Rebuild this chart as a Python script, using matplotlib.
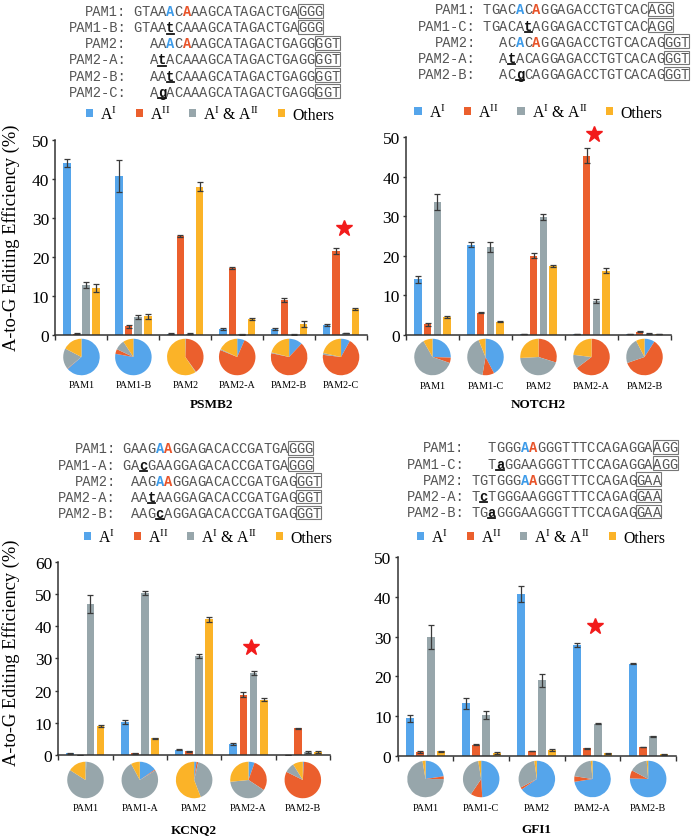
import numpy as np
import matplotlib
matplotlib.use('Agg')
import matplotlib.pyplot as plt
from matplotlib.patches import Patch, Rectangle
from matplotlib.lines import Line2D

plt.rcParams['font.family'] = 'Liberation Serif'
plt.rcParams['mathtext.fontset'] = 'custom'
plt.rcParams['mathtext.rm'] = 'Liberation Serif'
plt.rcParams['mathtext.it'] = 'Liberation Serif:italic'
plt.rcParams['mathtext.bf'] = 'Liberation Serif:bold'

# ---------------- data ----------------
series_names = [r'A$^{\mathrm{I}}$', r'A$^{\mathrm{II}}$',
                r'A$^{\mathrm{I}}$ & A$^{\mathrm{II}}$', 'Others']

psmb2_groups = ['PAM1', 'PAM1-B', 'PAM2', 'PAM2-A', 'PAM2-B', 'PAM2-C']
psmb2_a1 = [44.0, 40.7, 0.3, 1.5, 1.6, 2.5]
psmb2_a2 = [0.3, 2.2, 25.3, 17.1, 8.9, 21.5]
psmb2_both = [12.8, 4.6, 0.3, 0.2, 0.1, 0.5]
psmb2_oth = [12.0, 4.8, 38.0, 4.1, 2.8, 6.7]
psmb2_a1_err = [1.0, 4.0, 0.1, 0.2, 0.2, 0.2]
psmb2_a2_err = [0.1, 0.3, 0.3, 0.2, 0.5, 0.7]
psmb2_both_err = [0.7, 0.6, 0.1, 0.1, 0.05, 0.1]
psmb2_oth_err = [1.0, 0.6, 1.1, 0.2, 0.7, 0.2]

notch2_groups = ['PAM1', 'PAM1-C', 'PAM2', 'PAM2-A', 'PAM2-B']
notch2_a1 = [14.0, 22.8, 0.1, 0.1, 0.12]
notch2_a2 = [2.6, 5.6, 20.0, 45.3, 0.8]
notch2_both = [33.6, 22.2, 29.8, 8.6, 0.3]
notch2_oth = [4.5, 3.3, 17.4, 16.2, 0.1]
notch2_a1_err = [0.8, 0.7, 0.0, 0.0, 0.0]
notch2_a2_err = [0.3, 0.2, 0.6, 2.0, 0.1]
notch2_both_err = [2.0, 1.2, 0.8, 0.5, 0.05]
notch2_oth_err = [0.3, 0.2, 0.3, 0.6, 0.02]

kcnq2_groups = ['PAM1', 'PAM1-A', 'PAM2', 'PAM2-A', 'PAM2-B']
kcnq2_a1 = [0.5, 10.2, 1.6, 3.5, 0.1]
kcnq2_a2 = [0.0, 0.5, 1.1, 18.7, 8.3]
kcnq2_both = [47.0, 50.4, 30.6, 25.4, 0.9]
kcnq2_oth = [9.0, 5.2, 42.1, 17.2, 0.9]
kcnq2_a1_err = [0.2, 0.6, 0.2, 0.3, 0.05]
kcnq2_a2_err = [0.0, 0.2, 0.1, 0.7, 0.2]
kcnq2_both_err = [2.8, 0.6, 0.6, 0.7, 0.3]
kcnq2_oth_err = [0.3, 0.2, 0.8, 0.5, 0.2]

gfi1_groups = ['PAM1', 'PAM1-C', 'PAM2', 'PAM2-A', 'PAM2-B']
gfi1_a1 = [9.4, 13.2, 40.8, 28.0, 23.2]
gfi1_a2 = [1.0, 2.8, 1.2, 1.9, 2.2]
gfi1_both = [30.0, 10.2, 19.0, 8.1, 4.9]
gfi1_oth = [1.1, 0.7, 1.4, 0.6, 0.4]
gfi1_a1_err = [0.9, 1.4, 2.0, 0.5, 0.15]
gfi1_a2_err = [0.2, 0.2, 0.1, 0.1, 0.1]
gfi1_both_err = [3.0, 1.0, 1.7, 0.15, 0.15]
gfi1_oth_err = [0.2, 0.2, 0.3, 0.1, 0.1]

# star marks: (group index, y value)
psmb2_star = (5, 27.5)
notch2_star = (3, 50.8)
kcnq2_star = (3, 33.4)
gfi1_star = (3, 32.6)

# sequences (lowercase = substituted base), offset in characters, blue/red highlighted A
psmb2_seq_labels = ['PAM1', 'PAM1-B', 'PAM2', 'PAM2-A', 'PAM2-B', 'PAM2-C']
psmb2_seqs = ['GTAAACAAAGCATAGACTGAGGG', 'GTAAtCAAAGCATAGACTGAGGG',
              'AAACAAAGCATAGACTGAGGGGT', 'AtACAAAGCATAGACTGAGGGGT',
              'AAtCAAAGCATAGACTGAGGGGT', 'AgACAAAGCATAGACTGAGGGGT']
psmb2_offs = [0, 0, 2, 2, 2, 2]
psmb2_blue = [4, None, 2, None, None, None]
psmb2_red = [6, None, 4, None, None, None]

notch2_seq_labels = ['PAM1', 'PAM1-C', 'PAM2', 'PAM2-A', 'PAM2-B']
notch2_seqs = ['TGACACAGGAGACCTGTCACAGG', 'TGACAtAGGAGACCTGTCACAGG',
               'ACACAGGAGACCTGTCACAGGGT', 'AtACAGGAGACCTGTCACAGGGT',
               'ACgCAGGAGACCTGTCACAGGGT']
notch2_offs = [0, 0, 2, 2, 2]
notch2_blue = [4, None, 2, None, None]
notch2_red = [6, None, 4, None, None]

kcnq2_seq_labels = ['PAM1', 'PAM1-A', 'PAM2', 'PAM2-A', 'PAM2-B']
kcnq2_seqs = ['GAAGAAGGAGACACCGATGAGGG', 'GAcGAAGGAGACACCGATGAGGG',
              'AAGAAGGAGACACCGATGAGGGT', 'AAtAAGGAGACACCGATGAGGGT',
              'AAGcAGGAGACACCGATGAGGGT']
kcnq2_offs = [0, 0, 1, 1, 1]
kcnq2_blue = [4, None, 3, None, None]
kcnq2_red = [5, None, 4, None, None]

gfi1_seq_labels = ['PAM1', 'PAM1-C', 'PAM2', 'PAM2-A', 'PAM2-B']
gfi1_seqs = ['TGGGAAGGGTTTCCAGAGGAAGG', 'TaGGAAGGGTTTCCAGAGGAAGG',
             'TGTGGGAAGGGTTTCCAGAGGAA', 'TcTGGGAAGGGTTTCCAGAGGAA',
             'TGaGGGAAGGGTTTCCAGAGGAA']
gfi1_offs = [2, 2, 0, 0, 0]
gfi1_blue = [4, None, 6, None, None]
gfi1_red = [5, None, 7, None, None]

# ---------------- style ----------------
colors = ['#55A5EB', '#EB5F2D', '#97A6AB', '#FBB328']
MONO = 'Liberation Mono'
SEQ_FS = 9.9
CW = 8.26        # monospace cell width in px
LINE = 16.1
SEQ_C = '#555555'

W, H = 692, 837
fig = plt.figure(figsize=(W / 100, H / 100), dpi=100)
# overlay axes in pixel units, used for the pies
ov = fig.add_axes([0, 0, 1, 1], zorder=5)
ov.set_xlim(0, W)
ov.set_ylim(0, H)
ov.axis('off')


def fx(x):
    return x / W


def fy(y):
    return 1 - y / H


def seq_block(base_x, y0, labels, seqs, offs, blue, red):
    for j in range(len(seqs)):
        yc = y0 + j * LINE
        yb = yc + 4.5
        fig.text(fx(base_x - CW * 0.8), fy(yb), labels[j] + ':', family=MONO,
                 size=SEQ_FS, color=SEQ_C, ha='right', va='baseline')
        s = seqs[j]
        for i, ch in enumerate(s):
            xx = base_x + (offs[j] + i) * CW
            col, wt = SEQ_C, 'normal'
            if i == blue[j]:
                col, wt = '#3D9BE9', 'bold'
            elif i == red[j]:
                col, wt = '#E8542A', 'bold'
            elif ch.islower():
                col, wt = '#111111', 'bold'
                fig.add_artist(Line2D([fx(xx + 0.5), fx(xx + CW - 0.5)],
                                      [fy(yb + 2.2), fy(yb + 2.2)],
                                      color='#111111', lw=1.3))
            fig.text(fx(xx), fy(yb), ch, family=MONO, size=SEQ_FS,
                     color=col, weight=wt, ha='left', va='baseline')
        bx = base_x + (offs[j] + len(s) - 3) * CW
        fig.add_artist(Rectangle((fx(bx), fy(yc + 6.8)), 3 * CW / W, 13.6 / H,
                                 transform=fig.transFigure, fill=False,
                                 edgecolor='#777777', lw=0.8))


def legend_at(x, y):
    handles = [Patch(facecolor=c, edgecolor='none') for c in colors]
    fig.legend(handles, series_names, loc='center', bbox_to_anchor=(fx(x), fy(y)),
               ncol=4, frameon=False, fontsize=11.3, handlelength=0.45,
               handleheight=0.45, handletextpad=0.45, columnspacing=1.2,
               borderpad=0, borderaxespad=0)


def panel(box, groups, vals, errs, ymax, star, pie_y, lab_y, gene, gene_y):
    l, r, t, b = box
    ax = fig.add_axes([fx(l), fy(b), (r - l) / W, (b - t) / H])
    n = len(groups)
    x = np.arange(n) + 0.5
    for k in range(4):
        ax.bar(x + (k - 1.5) * 0.185, vals[k], 0.145, color=colors[k],
               yerr=errs[k], error_kw=dict(ecolor='#3a3a3a', elinewidth=0.9,
                                           capsize=2, capthick=0.9))
    ax.set_xlim(0, n)
    ax.set_ylim(0, ymax)
    ax.set_yticks(np.arange(0, ymax + 1, 10))
    ax.set_xticks(np.arange(n + 1))
    ax.set_xticklabels([])
    ax.set_xticks(x, groups, minor=True)
    ax.tick_params(axis='x', which='major', length=3.5, width=1, color='#333333')
    ax.tick_params(axis='x', which='minor', length=0, pad=(lab_y - b - 5) * 0.72,
                   labelsize=7.3)
    ax.tick_params(axis='y', length=2.5, width=1, pad=2, labelsize=12.5,
                   color='#333333')
    for s in ['top', 'right']:
        ax.spines[s].set_visible(False)
    for s in ['left', 'bottom']:
        ax.spines[s].set_color('#333333')
        ax.spines[s].set_linewidth(1.1)
    ax.plot(star[0] + 0.55, star[1], marker='*', color='#F21B1B', ms=12,
            ls='none', clip_on=False)
    # pies under each group, drawn in the pixel overlay
    d = 36.5
    for i in range(n):
        cx = ax.transData.transform((x[i], 0))[0]
        pv = [vals[k][i] for k in range(4)]
        ov.pie(pv, colors=colors, startangle=90, counterclock=False,
               radius=d / 2, center=(cx, H - pie_y), frame=True,
               wedgeprops=dict(linewidth=0))
    fig.text(fx((l + r) / 2), fy(gene_y), gene, size=9.5, weight='bold',
             ha='center', va='center')
    return ax


seq_block(133, 11.7, psmb2_seq_labels, psmb2_seqs, psmb2_offs, psmb2_blue, psmb2_red)
seq_block(482.7, 10, notch2_seq_labels, notch2_seqs, notch2_offs, notch2_blue, notch2_red)
seq_block(122.7, 449, kcnq2_seq_labels, kcnq2_seqs, kcnq2_offs, kcnq2_blue, kcnq2_red)
seq_block(471, 448, gfi1_seq_labels, gfi1_seqs, gfi1_offs, gfi1_blue, gfi1_red)

legend_at(210, 115)
legend_at(538.5, 113)
legend_at(208, 538)
legend_at(541, 538)

panel((55.5, 367, 140.7, 336), psmb2_groups,
      [psmb2_a1, psmb2_a2, psmb2_both, psmb2_oth],
      [psmb2_a1_err, psmb2_a2_err, psmb2_both_err, psmb2_oth_err],
      50, psmb2_star, 358, 386, 'PSMB2', 405)
panel((406, 671, 138, 335.7), notch2_groups,
      [notch2_a1, notch2_a2, notch2_both, notch2_oth],
      [notch2_a1_err, notch2_a2_err, notch2_both_err, notch2_oth_err],
      50, notch2_star, 358, 387, 'NOTCH2', 405)
panel((58.3, 330, 562.7, 756), kcnq2_groups,
      [kcnq2_a1, kcnq2_a2, kcnq2_both, kcnq2_oth],
      [kcnq2_a1_err, kcnq2_a2_err, kcnq2_both_err, kcnq2_oth_err],
      60, kcnq2_star, 781, 809, 'KCNQ2', 830)
panel((397.7, 676, 558.3, 756.7), gfi1_groups,
      [gfi1_a1, gfi1_a2, gfi1_both, gfi1_oth],
      [gfi1_a1_err, gfi1_a2_err, gfi1_both_err, gfi1_oth_err],
      50, gfi1_star, 780, 809, 'GFI1', 830)

ov.set_xlim(0, W)
ov.set_ylim(0, H)
ov.axis('off')

for yc in [238, 653]:
    fig.text(fx(11), fy(yc), 'A-to-G Editing Efficiency (%)', rotation=90,
             size=13.3, ha='center', va='center')

fig.savefig('out.png', dpi=100)
